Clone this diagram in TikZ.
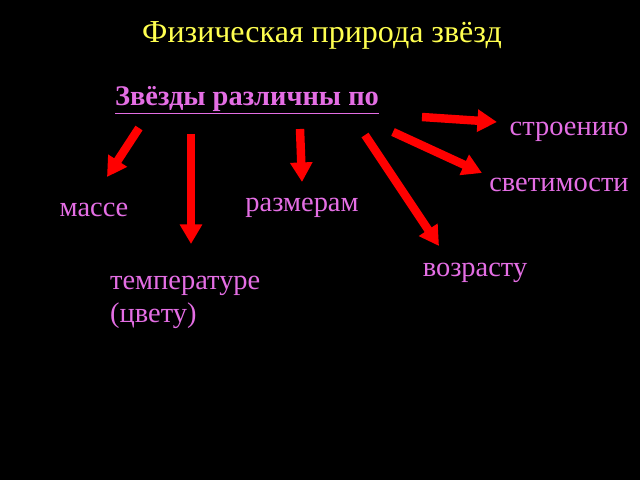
\documentclass[tikz,border=0pt]{standalone}
\usepackage{fontspec}
\setmainfont{Liberation Serif}
\usetikzlibrary{arrows.meta}
\definecolor{titleyellow}{RGB}{255,255,80}
\definecolor{labelpink}{RGB}{228,110,228}
\definecolor{arrowred}{RGB}{255,0,0}
\begin{document}
\begin{tikzpicture}[x=1.125pt,y=-1.125pt,
  lbl/.style={text=labelpink,font=\fontsize{32}{37}\selectfont,inner sep=0pt},
  redarrow/.style={draw=arrowred,line width=9.5pt,-{Triangle[length=22pt,width=24pt]}}]
\fill[black] (0,0) rectangle (640,480);
\useasboundingbox (0,0) rectangle (640,480);
% title and heading
\node[text=titleyellow,font=\fontsize{36}{40}\selectfont] (title) at (322,35) {Физическая природа звёзд};
\node[lbl,font=\fontsize{32}{37}\selectfont\bfseries] (head) at (247,100) {\underline{Звёзды различны по}};
% labels
\node[lbl] (mass) at (94,210) {массе};
\node[lbl,align=left,anchor=west] (temp) at (110,302) {температуре\\(цвету)};
\node[lbl] (size) at (302,208) {размерам};
\node[lbl] (age) at (475,273) {возрасту};
\node[lbl] (lum) at (559,185) {светимости};
\node[lbl] (struct) at (569,132) {строению};
% arrow ends
\coordinate (a1) at (139,128); \coordinate (b1) at (107,177);
\coordinate (a2) at (191,134); \coordinate (b2) at (191,244);
\coordinate (a3) at (300,129); \coordinate (b3) at (302,182);
\coordinate (a4) at (365,135); \coordinate (b4) at (439,246);
\coordinate (a5) at (393,132); \coordinate (b5) at (482,173);
\coordinate (a6) at (422,117); \coordinate (b6) at (497,122);
\draw[redarrow] (a1) -- (b1);
\draw[redarrow] (a2) -- (b2);
\draw[redarrow] (a3) -- (b3);
\draw[redarrow] (a4) -- (b4);
\draw[redarrow] (a5) -- (b5);
\draw[redarrow] (a6) -- (b6);
\end{tikzpicture}
\end{document}
